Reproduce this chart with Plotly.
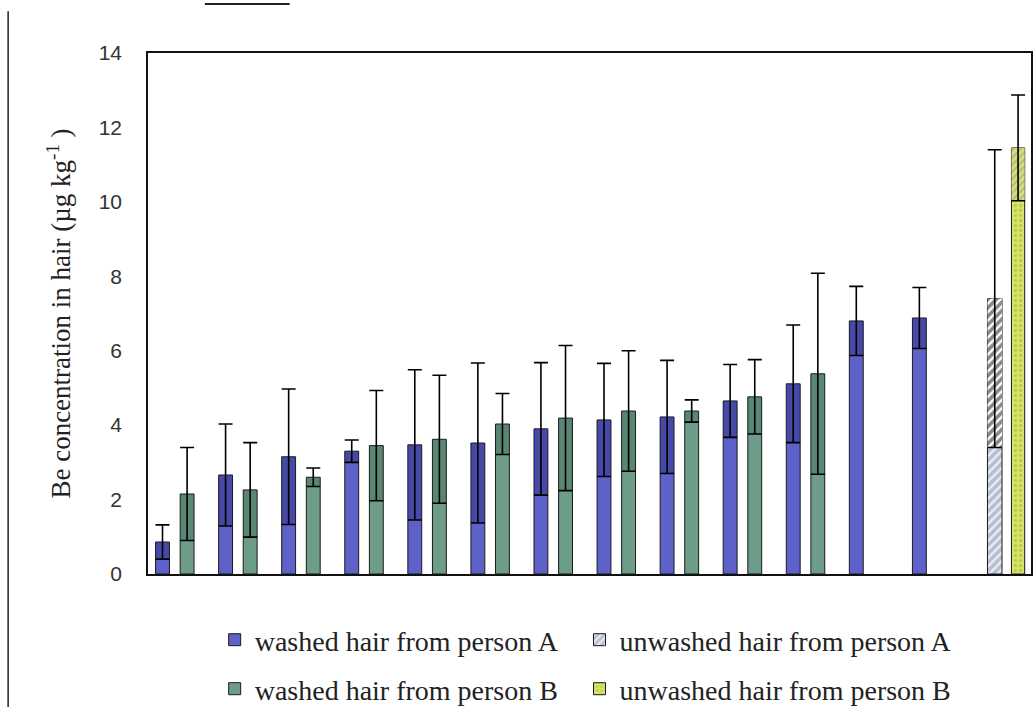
import plotly.graph_objects as go

# ---- data ----
samples = [str(i) for i in range(1, 15)]

washed_A = [0.86, 2.66, 3.15, 3.30, 3.47, 3.52, 3.90, 4.14, 4.22, 4.65, 5.11, 6.80, 6.88, None]
washed_A_err = [0.46, 1.37, 1.82, 0.30, 2.02, 2.15, 1.78, 1.52, 1.52, 0.98, 1.58, 0.93, 0.82, None]

washed_B = [2.15, 2.26, 2.60, 3.45, 3.62, 4.03, 4.19, 4.38, 4.38, 4.76, 5.38, None, None, None]
washed_B_err = [1.25, 1.27, 0.25, 1.48, 1.72, 0.82, 1.95, 1.62, 0.30, 1.00, 2.70, None, None, None]

unwashed_A = [None] * 13 + [7.40]
unwashed_A_err = [None] * 13 + [4.00]

unwashed_B = [None] * 13 + [11.45]
unwashed_B_err = [None] * 13 + [1.42]

y_ticks = [0, 2, 4, 6, 8, 10, 12, 14]


def lower(vals, errs):
    return [None if v is None else v - e for v, e in zip(vals, errs)]


series = [
    dict(name="washed hair from person A", v=washed_A, e=washed_A_err, off=-0.31, w=0.22,
         color="#5d61c8", dark="rgba(30,30,100,0.35)", pat=None, dpat=None, legend="legend"),
    dict(name="washed hair from person B", v=washed_B, e=washed_B_err, off=0.08, w=0.22,
         color="#6d9c88", dark="rgba(25,60,45,0.22)", pat=None, dpat=None, legend="legend3"),
    dict(name="unwashed hair from person A", v=unwashed_A, e=unwashed_A_err, off=-0.12, w=0.23,
         color="white", dark="white",
         pat=dict(shape="/", fgcolor="#7f8db0", bgcolor="#eceef5", size=6, solidity=0.6),
         dpat=dict(shape="/", fgcolor="#111111", bgcolor="white", size=6, solidity=0.6),
         legend="legend2"),
    dict(name="unwashed hair from person B", v=unwashed_B, e=unwashed_B_err, off=0.26, w=0.21,
         color="#d4e060", dark="#c4cc70",
         pat=dict(shape=".", fgcolor="#a2ae36", bgcolor="#d8e468", size=5, solidity=0.35),
         dpat=dict(shape="/", fgcolor="#8a8f6a", bgcolor="#d4dc80", size=5, solidity=0.3),
         legend="legend4"),
]

fig = go.Figure()

# main bars (with legend)
for s in series:
    marker = dict(color=s["color"], line=dict(color="#1a1a1a", width=1))
    if s["pat"]:
        marker["pattern"] = s["pat"]
    fig.add_trace(go.Bar(
        x=samples, y=s["v"], name=s["name"], offset=s["off"], width=s["w"],
        marker=marker, legend=s["legend"],
    ))

# darker band within the error range, carrying the error bars
for s in series:
    marker = dict(color=s["dark"], line=dict(width=0))
    if s["dpat"]:
        marker["pattern"] = s["dpat"]
    fig.add_trace(go.Bar(
        x=samples, y=s["e"], base=lower(s["v"], s["e"]), offset=s["off"], width=s["w"],
        marker=marker, showlegend=False, hoverinfo="skip",
        error_y=dict(type="data", symmetric=False, array=s["e"], arrayminus=s["e"],
                     color="black", thickness=1.6, width=7),
    ))

legend_font = dict(family="Liberation Serif", size=28, color="#222")
legend_common = dict(orientation="h", xref="paper", yref="container", xanchor="left",
                     yanchor="middle", font=legend_font,
                     bgcolor="rgba(0,0,0,0)", itemwidth=30, traceorder="normal")
col1_x = 0.0755
col2_x = 0.4887
row1_y = (707 - 640) / 707
row2_y = (707 - 689) / 707

fig.update_layout(
    width=1036, height=707,
    margin=dict(l=148, r=3, t=53, b=133),
    paper_bgcolor="white", plot_bgcolor="white",
    barmode="overlay",
    xaxis=dict(
        type="category", range=[-0.43, 13.57],
        showticklabels=False, ticks="", showgrid=False, zeroline=False,
        showline=True, linecolor="#111", linewidth=1.5, mirror=True,
    ),
    yaxis=dict(
        range=[0, 14], tickvals=y_ticks, ticks="", showgrid=False, zeroline=False,
        showline=True, linecolor="#111", linewidth=1.5, mirror=True,
        tickfont=dict(family="Liberation Sans", size=21, color="#333"),
        ticklabelstandoff=20,
        title=dict(text="Be concentration in hair (µg kg<sup>-1</sup> )",
                   font=dict(family="Liberation Serif", size=27, color="#222"),
                   standoff=20),
    ),
    legend=dict(legend_common, x=col1_x, y=row1_y),
    legend2=dict(legend_common, x=col2_x, y=row1_y),
    legend3=dict(legend_common, x=col1_x, y=row2_y),
    legend4=dict(legend_common, x=col2_x, y=row2_y),
    showlegend=True,
    shapes=[
        dict(type="line", xref="paper", yref="paper", x0=-0.1584, x1=-0.1584,
             y0=1.08, y1=-0.2553, line=dict(color="#222", width=1.5)),
        dict(type="line", xref="paper", yref="paper", x0=(205 - 148) / 885, x1=(290 - 148) / 885,
             y0=(574 - 4) / 521, y1=(574 - 4) / 521, line=dict(color="#222", width=2)),
    ],
)

fig.write_html("out.html", config={"displayModeBar": False},
               post_script="document.body.style.margin='0';")
